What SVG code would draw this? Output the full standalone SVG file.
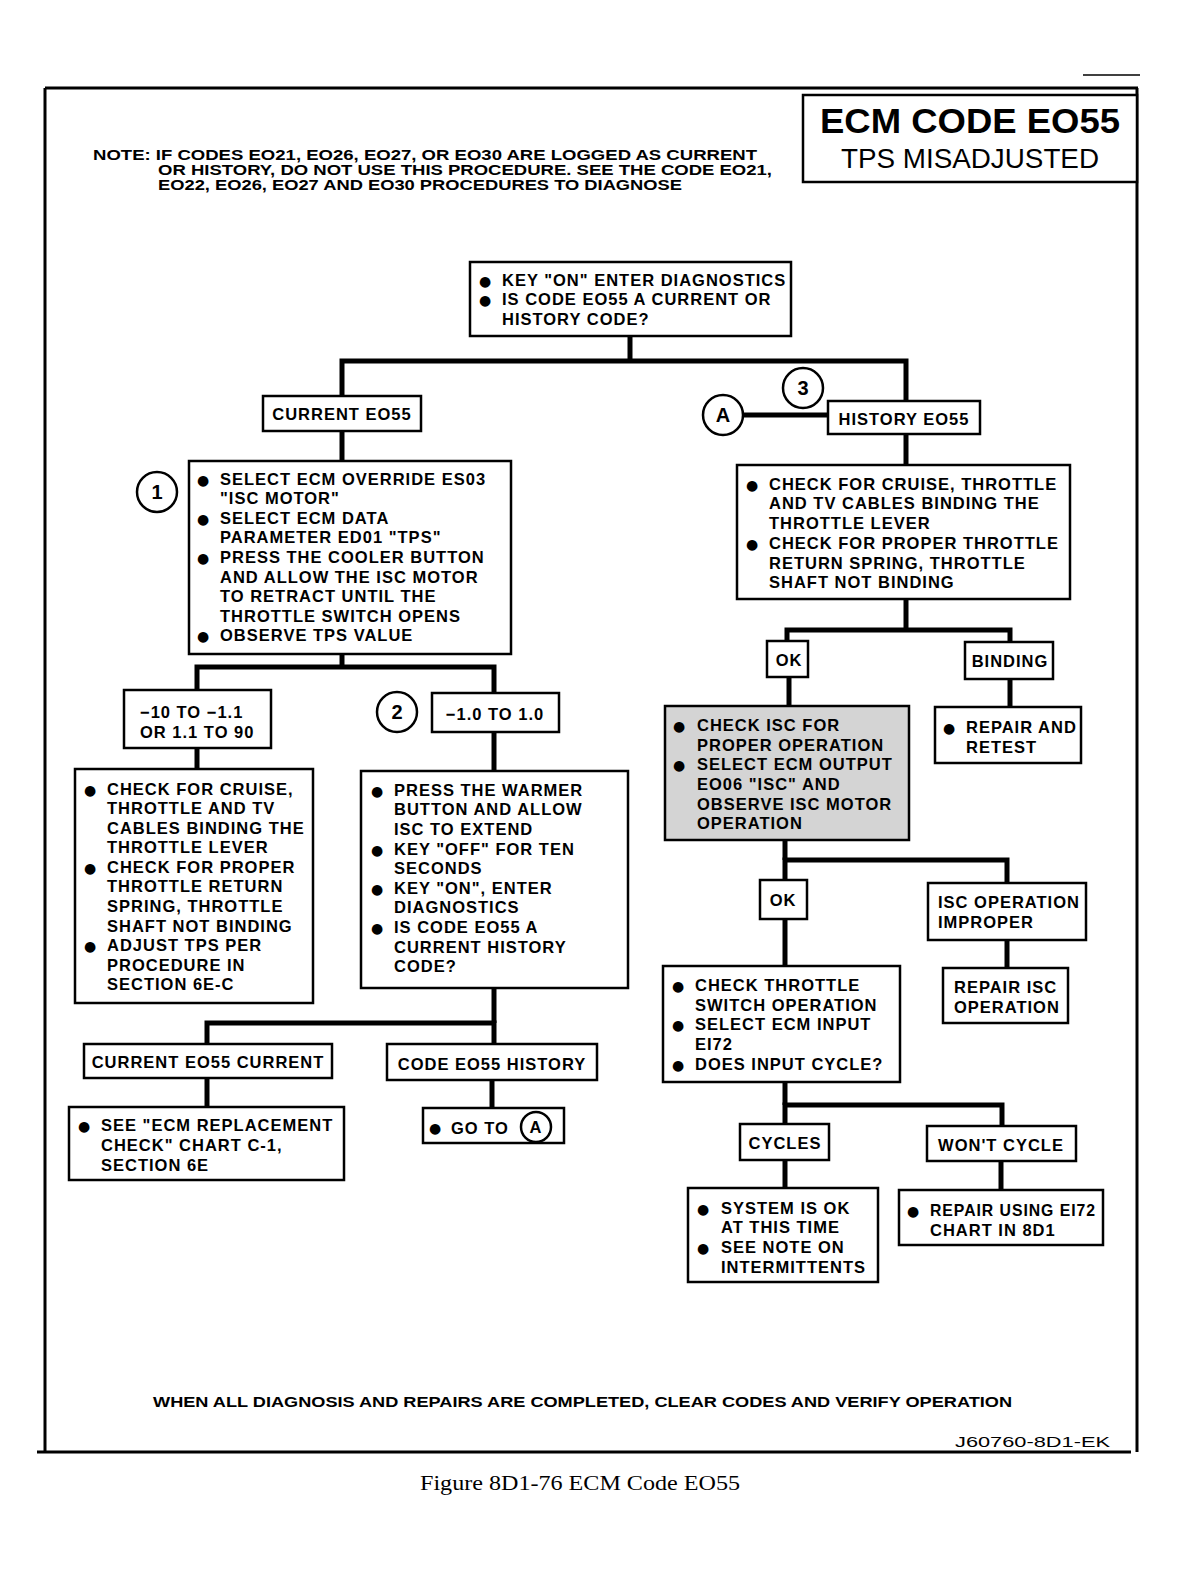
<svg xmlns="http://www.w3.org/2000/svg" width="1178" height="1569" viewBox="0 0 1178 1569">
<style>
.bx{fill:#fff;stroke:#000;stroke-width:2.5}
.sh{fill:#d4d4d4;stroke:#000;stroke-width:2.5}
.cn{fill:none;stroke:#000;stroke-width:5}
.fr{fill:none;stroke:#000;stroke-width:3}
.t{font-family:"Liberation Sans",Arial,sans-serif;font-weight:bold;font-size:16.5px;letter-spacing:1px;fill:#000}
.b{font-family:"DejaVu Sans",sans-serif;font-size:14px;fill:#000}
.c{text-anchor:middle}
.circ{fill:#fff;stroke:#000;stroke-width:2.5}
.ct{font-family:"Liberation Sans",Arial,sans-serif;font-weight:bold;font-size:20px;text-anchor:middle}
</style>

<g id="frame">
<line x1="45" y1="88" x2="1138" y2="88" class="fr"/>
<line x1="45" y1="88" x2="45" y2="1452" class="fr"/>
<line x1="1137" y1="88" x2="1137" y2="1452" class="fr"/>
<line x1="37" y1="1452" x2="1131" y2="1452" class="fr"/>
<line x1="1083" y1="75" x2="1140" y2="75" stroke="#000" stroke-width="1.5"/>
</g>

<g id="title">
<rect x="803" y="95" width="334" height="87" class="bx"/>
<text x="970" y="133" font-family="Liberation Sans,Arial,sans-serif" font-weight="bold" font-size="35" text-anchor="middle" textLength="300" lengthAdjust="spacingAndGlyphs">ECM CODE EO55</text>
<text x="970" y="168" font-family="Liberation Sans,Arial,sans-serif" font-size="27" text-anchor="middle" textLength="258" lengthAdjust="spacingAndGlyphs">TPS MISADJUSTED</text>
</g>

<g id="note" font-family="Liberation Sans,Arial,sans-serif" font-weight="bold" font-size="15">
<text x="93" y="160" textLength="664" lengthAdjust="spacingAndGlyphs">NOTE: IF CODES EO21, EO26, EO27, OR EO30 ARE LOGGED AS CURRENT</text>
<text x="158" y="175" textLength="614" lengthAdjust="spacingAndGlyphs">OR HISTORY, DO NOT USE THIS PROCEDURE. SEE THE CODE EO21,</text>
<text x="158" y="190" textLength="524" lengthAdjust="spacingAndGlyphs">EO22, EO26, EO27 AND EO30 PROCEDURES TO DIAGNOSE</text>
</g>

<g id="connectors">
<polyline class="cn" points="630,336 630,361"/>
<polyline class="cn" points="342,396 342,361 906,361 906,401"/>
<line class="cn" x1="743" y1="415" x2="828" y2="415"/>
<line class="cn" x1="342" y1="431" x2="342" y2="461"/>
<line class="cn" x1="342" y1="654" x2="342" y2="667"/>
<polyline class="cn" points="197,690 197,667 494,667 494,693"/>
<line class="cn" x1="197" y1="748" x2="197" y2="769"/>
<line class="cn" x1="494" y1="732" x2="494" y2="771"/>
<line class="cn" x1="494" y1="988" x2="494" y2="1023"/>
<polyline class="cn" points="207,1044 207,1023 494,1023 494,1044"/>
<line class="cn" x1="207" y1="1078" x2="207" y2="1107"/>
<line class="cn" x1="492" y1="1080" x2="492" y2="1108"/>
<line class="cn" x1="906" y1="434" x2="906" y2="465"/>
<line class="cn" x1="906" y1="599" x2="906" y2="630"/>
<polyline class="cn" points="787,641 787,630 1010,630 1010,642"/>
<line class="cn" x1="789" y1="677" x2="789" y2="706"/>
<line class="cn" x1="1010" y1="679" x2="1010" y2="707"/>
<line class="cn" x1="785" y1="840" x2="785" y2="860"/>
<polyline class="cn" points="785,880 785,860 1007,860 1007,883"/>
<line class="cn" x1="785" y1="919" x2="785" y2="966"/>
<line class="cn" x1="1007" y1="940" x2="1007" y2="968"/>
<line class="cn" x1="785" y1="1082" x2="785" y2="1105"/>
<polyline class="cn" points="785,1124 785,1105 1002,1105 1002,1126"/>
<line class="cn" x1="785" y1="1160" x2="785" y2="1188"/>
<line class="cn" x1="1001" y1="1161" x2="1001" y2="1190"/>
</g>

<g id="n-start">
<rect x="470" y="262" width="321" height="74" class="bx"/>
<text class="b" x="479" y="286">●</text><text class="t" x="502" y="286">KEY "ON" ENTER DIAGNOSTICS</text>
<text class="b" x="479" y="305">●</text><text class="t" x="502" y="305">IS CODE EO55 A CURRENT OR</text>
<text class="t" x="502" y="325">HISTORY CODE?</text>
</g>

<g id="n-current">
<rect x="263" y="396" width="158" height="35" class="bx"/>
<text class="t c" x="342" y="420">CURRENT EO55</text>
</g>

<g id="n-c1">
<circle cx="157" cy="492" r="20" class="circ"/>
<text class="ct" x="157" y="499">1</text>
</g>

<g id="n-step1">
<rect x="189" y="461" width="322" height="193" class="bx"/>
<text class="b" x="197" y="485">●</text><text class="t" x="220" y="485">SELECT ECM OVERRIDE ES03</text>
<text class="t" x="220" y="504">"ISC MOTOR"</text>
<text class="b" x="197" y="524">●</text><text class="t" x="220" y="524">SELECT ECM DATA</text>
<text class="t" x="220" y="543">PARAMETER ED01 "TPS"</text>
<text class="b" x="197" y="563">●</text><text class="t" x="220" y="563">PRESS THE COOLER BUTTON</text>
<text class="t" x="220" y="583">AND ALLOW THE ISC MOTOR</text>
<text class="t" x="220" y="602">TO RETRACT UNTIL THE</text>
<text class="t" x="220" y="622">THROTTLE SWITCH OPENS</text>
<text class="b" x="197" y="641">●</text><text class="t" x="220" y="641">OBSERVE TPS VALUE</text>
</g>

<g id="n-range1">
<rect x="124" y="690" width="147" height="58" class="bx"/>
<text class="t" x="140" y="718">−10 TO −1.1</text>
<text class="t" x="140" y="738">OR 1.1 TO 90</text>
</g>

<g id="n-c2">
<circle cx="397" cy="712" r="20" class="circ"/>
<text class="ct" x="397" y="719">2</text>
</g>

<g id="n-range2">
<rect x="432" y="693" width="127" height="39" class="bx"/>
<text class="t c" x="495" y="720">−1.0 TO 1.0</text>
</g>

<g id="n-adjust">
<rect x="75" y="769" width="238" height="234" class="bx"/>
<text class="b" x="84" y="795">●</text><text class="t" x="107" y="795">CHECK FOR CRUISE,</text>
<text class="t" x="107" y="814">THROTTLE AND TV</text>
<text class="t" x="107" y="834">CABLES BINDING THE</text>
<text class="t" x="107" y="853">THROTTLE LEVER</text>
<text class="b" x="84" y="873">●</text><text class="t" x="107" y="873">CHECK FOR PROPER</text>
<text class="t" x="107" y="892">THROTTLE RETURN</text>
<text class="t" x="107" y="912">SPRING, THROTTLE</text>
<text class="t" x="107" y="932">SHAFT NOT BINDING</text>
<text class="b" x="84" y="951">●</text><text class="t" x="107" y="951">ADJUST TPS PER</text>
<text class="t" x="107" y="971">PROCEDURE IN</text>
<text class="t" x="107" y="990">SECTION 6E-C</text>
</g>

<g id="n-warmer">
<rect x="361" y="771" width="267" height="217" class="bx"/>
<text class="b" x="371" y="796">●</text><text class="t" x="394" y="796">PRESS THE WARMER</text>
<text class="t" x="394" y="815">BUTTON AND ALLOW</text>
<text class="t" x="394" y="835">ISC TO EXTEND</text>
<text class="b" x="371" y="855">●</text><text class="t" x="394" y="855">KEY "OFF" FOR TEN</text>
<text class="t" x="394" y="874">SECONDS</text>
<text class="b" x="371" y="894">●</text><text class="t" x="394" y="894">KEY "ON", ENTER</text>
<text class="t" x="394" y="913">DIAGNOSTICS</text>
<text class="b" x="371" y="933">●</text><text class="t" x="394" y="933">IS CODE EO55 A</text>
<text class="t" x="394" y="953">CURRENT HISTORY</text>
<text class="t" x="394" y="972">CODE?</text>
</g>

<g id="n-curcur">
<rect x="84" y="1044" width="248" height="34" class="bx"/>
<text class="t c" x="208" y="1068">CURRENT EO55 CURRENT</text>
</g>

<g id="n-codehist">
<rect x="387" y="1044" width="210" height="36" class="bx"/>
<text class="t c" x="492" y="1070">CODE EO55 HISTORY</text>
</g>

<g id="n-ecmrep">
<rect x="69" y="1107" width="275" height="73" class="bx"/>
<text class="b" x="78" y="1131">●</text><text class="t" x="101" y="1131">SEE "ECM REPLACEMENT</text>
<text class="t" x="101" y="1151">CHECK" CHART C-1,</text>
<text class="t" x="101" y="1171">SECTION 6E</text>
</g>

<g id="n-goto">
<rect x="423" y="1108" width="141" height="35" class="bx"/>
<text class="b" x="429" y="1133">●</text><text class="t" x="451" y="1134">GO TO</text>
<circle cx="536" cy="1127" r="15" class="circ"/>
<text class="t c" x="536" y="1133">A</text>
</g>

<g id="n-c3">
<circle cx="803" cy="388" r="20" class="circ"/>
<text class="ct" x="803" y="395">3</text>
</g>

<g id="n-A">
<circle cx="723" cy="415" r="20" class="circ"/>
<text class="ct" x="723" y="422">A</text>
</g>

<g id="n-history">
<rect x="828" y="401" width="152" height="33" class="bx"/>
<text class="t c" x="904" y="425">HISTORY EO55</text>
</g>

<g id="n-check">
<rect x="737" y="465" width="333" height="134" class="bx"/>
<text class="b" x="746" y="490">●</text><text class="t" x="769" y="490">CHECK FOR CRUISE, THROTTLE</text>
<text class="t" x="769" y="509">AND TV CABLES BINDING THE</text>
<text class="t" x="769" y="529">THROTTLE LEVER</text>
<text class="b" x="746" y="549">●</text><text class="t" x="769" y="549">CHECK FOR PROPER THROTTLE</text>
<text class="t" x="769" y="569">RETURN SPRING, THROTTLE</text>
<text class="t" x="769" y="588">SHAFT NOT BINDING</text>
</g>

<g id="n-ok1">
<rect x="767" y="641" width="41" height="36" class="bx"/>
<text class="t c" x="789" y="666">OK</text>
</g>

<g id="n-binding">
<rect x="965" y="642" width="88" height="37" class="bx"/>
<text class="t c" x="1010" y="667">BINDING</text>
</g>

<g id="n-isc">
<rect x="665" y="706" width="244" height="134" class="sh"/>
<text class="b" x="673" y="731">●</text><text class="t" x="697" y="731">CHECK ISC FOR</text>
<text class="t" x="697" y="751">PROPER OPERATION</text>
<text class="b" x="673" y="770">●</text><text class="t" x="697" y="770">SELECT ECM OUTPUT</text>
<text class="t" x="697" y="790">EO06 "ISC" AND</text>
<text class="t" x="697" y="810">OBSERVE ISC MOTOR</text>
<text class="t" x="697" y="829">OPERATION</text>
</g>

<g id="n-repair">
<rect x="935" y="707" width="146" height="56" class="bx"/>
<text class="b" x="943" y="733">●</text><text class="t" x="966" y="733">REPAIR AND</text>
<text class="t" x="966" y="753">RETEST</text>
</g>

<g id="n-ok2">
<rect x="760" y="880" width="47" height="39" class="bx"/>
<text class="t c" x="783" y="906">OK</text>
</g>

<g id="n-iscimp">
<rect x="928" y="883" width="158" height="57" class="bx"/>
<text class="t" x="938" y="908">ISC OPERATION</text>
<text class="t" x="938" y="928">IMPROPER</text>
</g>

<g id="n-throttle">
<rect x="663" y="966" width="237" height="116" class="bx"/>
<text class="b" x="672" y="991">●</text><text class="t" x="695" y="991">CHECK THROTTLE</text>
<text class="t" x="695" y="1011">SWITCH OPERATION</text>
<text class="b" x="672" y="1030">●</text><text class="t" x="695" y="1030">SELECT ECM INPUT</text>
<text class="t" x="695" y="1050">EI72</text>
<text class="b" x="672" y="1070">●</text><text class="t" x="695" y="1070">DOES INPUT CYCLE?</text>
</g>

<g id="n-repisc">
<rect x="943" y="968" width="125" height="55" class="bx"/>
<text class="t" x="954" y="993">REPAIR ISC</text>
<text class="t" x="954" y="1013">OPERATION</text>
</g>

<g id="n-cycles">
<rect x="740" y="1124" width="89" height="36" class="bx"/>
<text class="t c" x="785" y="1149">CYCLES</text>
</g>

<g id="n-wont">
<rect x="927" y="1126" width="149" height="35" class="bx"/>
<text class="t c" x="1001" y="1151">WON'T CYCLE</text>
</g>

<g id="n-sysok">
<rect x="688" y="1188" width="190" height="94" class="bx"/>
<text class="b" x="697" y="1214">●</text><text class="t" x="721" y="1214">SYSTEM IS OK</text>
<text class="t" x="721" y="1233">AT THIS TIME</text>
<text class="b" x="697" y="1253">●</text><text class="t" x="721" y="1253">SEE NOTE ON</text>
<text class="t" x="721" y="1273">INTERMITTENTS</text>
</g>

<g id="n-repei72">
<rect x="899" y="1190" width="204" height="55" class="bx"/>
<text class="b" x="907" y="1216">●</text><text class="t" x="930" y="1216" textLength="166" lengthAdjust="spacingAndGlyphs">REPAIR USING EI72</text>
<text class="t" x="930" y="1236">CHART IN 8D1</text>
</g>

<g id="footer">
<text x="153" y="1407" font-family="Liberation Sans,Arial,sans-serif" font-weight="bold" font-size="15" textLength="859" lengthAdjust="spacingAndGlyphs">WHEN ALL DIAGNOSIS AND REPAIRS ARE COMPLETED, CLEAR CODES AND VERIFY OPERATION</text>
<text x="955" y="1447" font-family="Liberation Sans,Arial,sans-serif" font-size="15" textLength="155" lengthAdjust="spacingAndGlyphs">J60760-8D1-EK</text>
<text x="420" y="1490" font-family="Liberation Serif,Times New Roman,serif" font-size="22" textLength="320" lengthAdjust="spacingAndGlyphs">Figure 8D1-76 ECM Code EO55</text>
</g>
</svg>
